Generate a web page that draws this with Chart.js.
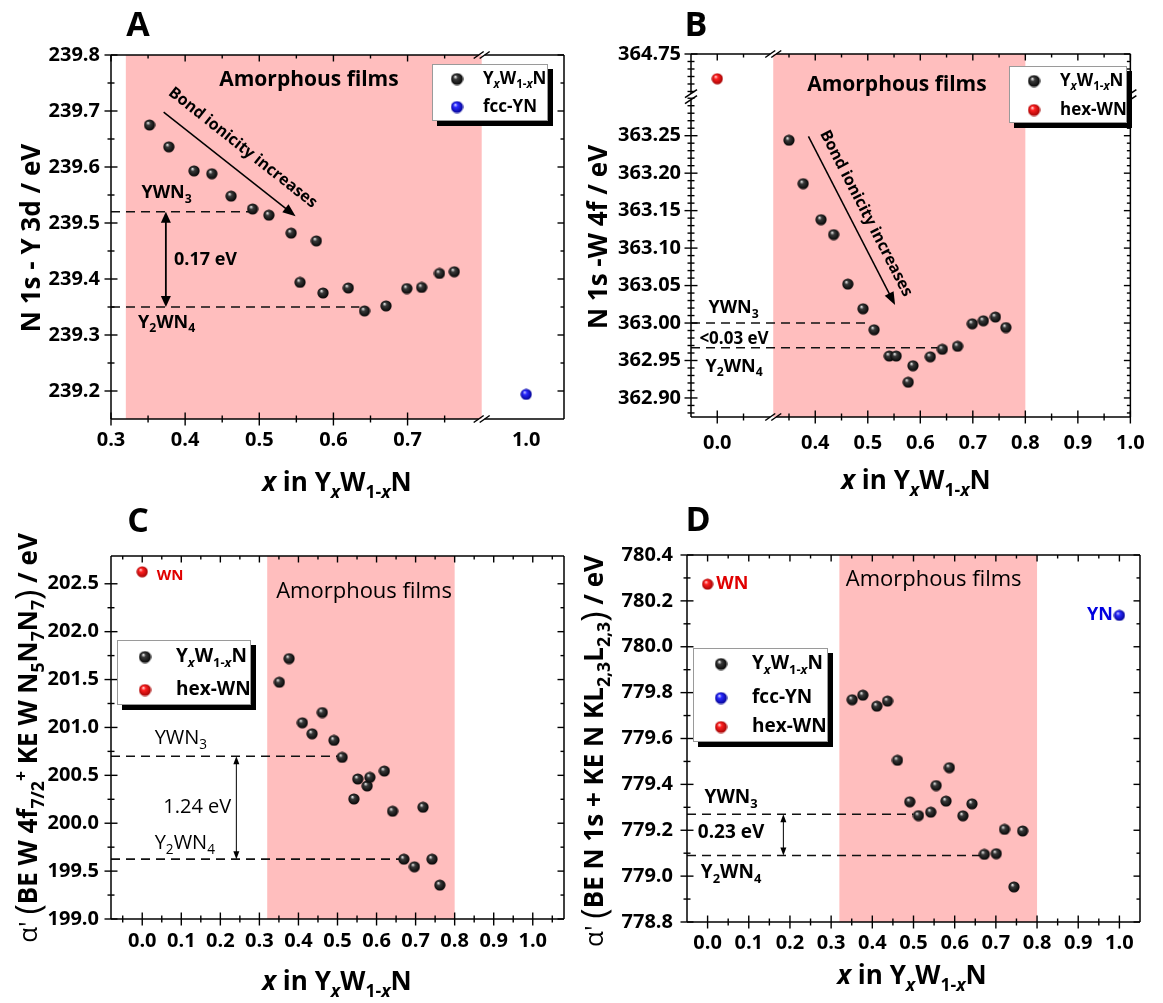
<!DOCTYPE html>
<html>
<head>
<meta charset="utf-8">
<script src="https://cdn.jsdelivr.net/npm/chart.js@4.4.0/dist/chart.umd.min.js"></script>
<style>
  body { margin: 0; background: #fff; width: 1163px; height: 1003px; position: relative; overflow: hidden; }
  canvas { position: absolute; }
</style>
</head>
<body>
<canvas id="pa" width="580" height="500" style="left:0;top:0"></canvas>
<canvas id="pb" width="583" height="500" style="left:580px;top:0"></canvas>
<canvas id="pc" width="580" height="503" style="left:0;top:500px"></canvas>
<canvas id="pd" width="583" height="503" style="left:580px;top:500px"></canvas>
<script>
// ---- data ----
// A: N 1s - Y 3d
const aX = [0.352, 0.378, 0.412, 0.436, 0.462, 0.491, 0.513, 0.543, 0.577, 0.555, 0.586, 0.620, 0.642, 0.671, 0.699, 0.719, 0.743, 0.763];
const aY = [239.675, 239.636, 239.593, 239.588, 239.548, 239.525, 239.514, 239.482, 239.468, 239.394, 239.375, 239.384, 239.343, 239.352, 239.383, 239.385, 239.410, 239.413];
const aYnX = [1.0];
const aYnY = [239.194];
const aTickX = [0.3, 0.4, 0.5, 0.6, 0.7];
const aTickX2 = [1.0];
const aTickY = [239.2, 239.3, 239.4, 239.5, 239.6, 239.7, 239.8];
const aLevels = [239.52, 239.35];

// B: N 1s - W 4f
const bX = [0.350, 0.377, 0.411, 0.435, 0.462, 0.491, 0.512, 0.541, 0.554, 0.586, 0.577, 0.619, 0.642, 0.671, 0.699, 0.720, 0.743, 0.763];
const bY = [363.244, 363.186, 363.138, 363.118, 363.052, 363.019, 362.991, 362.956, 362.956, 362.943, 362.921, 362.955, 362.965, 362.969, 362.999, 363.003, 363.008, 362.994];
const bWnX = [0.0];
const bWnY = [364.717];
const bTickX = [0.0];
const bTickX2 = [0.4, 0.5, 0.6, 0.7, 0.8, 0.9, 1.0];
const bTickY = [364.75];
const bTickY2 = [362.90, 362.95, 363.00, 363.05, 363.10, 363.15, 363.20, 363.25];
const bLevels = [363.00, 362.967];

// C: alpha' W
const cX = [0.351, 0.376, 0.410, 0.435, 0.461, 0.491, 0.512, 0.542, 0.552, 0.576, 0.583, 0.620, 0.641, 0.719, 0.670, 0.697, 0.742, 0.762];
const cY = [201.472, 201.719, 201.049, 200.934, 201.156, 200.865, 200.688, 200.253, 200.462, 200.389, 200.479, 200.545, 200.125, 200.167, 199.625, 199.545, 199.625, 199.354];
const cWnX = [0.0];
const cWnY = [202.625];
const cTickX = [0.0, 0.1, 0.2, 0.3, 0.4, 0.5, 0.6, 0.7, 0.8, 0.9, 1.0];
const cTickY = [199.0, 199.5, 200.0, 200.5, 201.0, 201.5, 202.0, 202.5];
const cLevels = [200.70, 199.625];

// D: alpha' N
const dX = [0.351, 0.377, 0.411, 0.437, 0.461, 0.491, 0.512, 0.542, 0.555, 0.579, 0.587, 0.620, 0.642, 0.672, 0.701, 0.721, 0.744, 0.765];
const dY = [779.769, 779.789, 779.741, 779.763, 779.505, 779.324, 779.264, 779.279, 779.395, 779.327, 779.473, 779.263, 779.315, 779.095, 779.098, 779.204, 778.953, 779.197];
const dWnX = [0.0];
const dWnY = [780.273];
const dYnX = [1.0];
const dYnY = [780.137];
const dTickX = [0.0, 0.1, 0.2, 0.3, 0.4, 0.5, 0.6, 0.7, 0.8, 0.9, 1.0];
const dTickY = [778.8, 779.0, 779.2, 779.4, 779.6, 779.8, 780.0, 780.2, 780.4];
const dLevels = [779.27, 779.09];

const amorphous = [0.32, 0.80];

// ---- drawing helpers ----
const FONT = '"Open Sans", "DejaVu Sans", sans-serif';
const PINK = '#ffbebe';

function sphere(hi, mid, lo) {
  const cv = document.createElement('canvas');
  cv.width = cv.height = 12;
  const g = cv.getContext('2d');
  const gr = g.createRadialGradient(4.3, 3.8, 0.3, 6, 6, 6);
  gr.addColorStop(0, hi);
  gr.addColorStop(0.3, mid);
  gr.addColorStop(1, lo);
  g.fillStyle = gr;
  g.beginPath();
  g.arc(6, 6, 5.6, 0, Math.PI * 2);
  g.fill();
  return cv;
}
const ballK = sphere('#e8e8e8', '#3a3a3a', '#000');
const ballB = sphere('#c8c8ff', '#2a2aff', '#00008a');
const ballR = sphere('#ffd0d0', '#ff2020', '#9a0000');

function rich(ctx, parts, x, y, o) {
  const size = o.size, w = o.weight || 'bold';
  const segs = parts.map(p => typeof p === 'string' ? {t: p} : p);
  const fontOf = p => {
    const s = (p.sub || p.sup) ? size * 0.68 : size * (p.scale || 1);
    return (p.it ? 'italic ' : '') + (p.w || w) + ' ' + s + 'px ' + FONT;
  };
  ctx.save();
  let total = 0;
  segs.forEach(p => { ctx.font = fontOf(p); p.wd = ctx.measureText(p.t).width; total += p.wd; });
  ctx.translate(x, y);
  if (o.rot) ctx.rotate(o.rot);
  let cx = o.align === 'center' ? -total / 2 : o.align === 'right' ? -total : 0;
  ctx.fillStyle = o.color || '#000';
  ctx.textBaseline = 'middle';
  ctx.textAlign = 'left';
  segs.forEach(p => {
    ctx.font = fontOf(p);
    const dy = p.sub ? size * 0.33 : p.sup ? -size * 0.3 : 0;
    ctx.fillText(p.t, cx, dy);
    cx += p.wd;
  });
  ctx.restore();
}

const lblYWN = ['YWN', {t: '3', sub: 1}];
const lblY2WN = ['Y', {t: '2', sub: 1}, 'WN', {t: '4', sub: 1}];
const lblAlloy = ['Y', {t: 'x', sub: 1, it: 1}, 'W', {t: '1-', sub: 1}, {t: 'x', sub: 1, it: 1}, 'N'];
const lblXTitle = [{t: 'x', it: 1}, ' in Y', {t: 'x', sub: 1, it: 1}, 'W', {t: '1-', sub: 1}, {t: 'x', sub: 1, it: 1}, 'N'];

function dashH(ctx, x0, x1, y) {
  ctx.save();
  ctx.strokeStyle = '#111';
  ctx.lineWidth = 1.6;
  ctx.setLineDash([9, 6]);
  ctx.beginPath();
  ctx.moveTo(x0, y);
  ctx.lineTo(x1, y);
  ctx.stroke();
  ctx.restore();
}

function head(ctx, x, y, ang, len, hw) {
  const c = Math.cos(ang), s = Math.sin(ang);
  ctx.beginPath();
  ctx.moveTo(x, y);
  ctx.lineTo(x - len * c + hw * s, y - len * s - hw * c);
  ctx.lineTo(x - len * c - hw * s, y - len * s + hw * c);
  ctx.closePath();
  ctx.fill();
}

function arrow(ctx, x0, y0, x1, y1, o) {
  const ang = Math.atan2(y1 - y0, x1 - x0);
  const c = Math.cos(ang), s = Math.sin(ang);
  ctx.save();
  ctx.lineWidth = o.w;
  ctx.strokeStyle = ctx.fillStyle = '#000';
  ctx.beginPath();
  const k = o.len * 0.7;
  ctx.moveTo(x0 + (o.both ? k * c : 0), y0 + (o.both ? k * s : 0));
  ctx.lineTo(x1 - k * c, y1 - k * s);
  ctx.stroke();
  head(ctx, x1, y1, ang, o.len, o.hw);
  if (o.both) head(ctx, x0, y0, ang + Math.PI, o.len, o.hw);
  ctx.restore();
}

function tilted(ctx, text, x0, y0, x1, y1, off, size) {
  const ang = Math.atan2(y1 - y0, x1 - x0);
  const mx = (x0 + x1) / 2 + Math.sin(ang) * off;
  const my = (y0 + y1) / 2 - Math.cos(ang) * off;
  rich(ctx, [text], mx, my, {size: size, align: 'center', rot: ang});
}

function legend(ctx, box, entries, size) {
  const [x0, y0, x1, y1] = box;
  ctx.save();
  ctx.fillStyle = '#000';
  ctx.fillRect(x0 + 5, y0 + 5, x1 - x0, y1 - y0);
  ctx.fillStyle = '#fff';
  ctx.fillRect(x0, y0, x1 - x0, y1 - y0);
  ctx.strokeStyle = '#9a9a9a';
  ctx.lineWidth = 1;
  ctx.strokeRect(x0 + 0.5, y0 + 0.5, x1 - x0 - 1, y1 - y0 - 1);
  entries.forEach(e => {
    ctx.drawImage(e.img, e.sx - 6.5, e.y - 6.5, 13, 13);
    rich(ctx, e.label, e.tx, e.y, {size: size});
  });
  ctx.restore();
}

function frame(ctx, a, xb, yb) {
  const g = 3;
  ctx.save();
  ctx.strokeStyle = '#000';
  ctx.lineWidth = 1.5;
  const seg = (x0, y0, x1, y1) => { ctx.beginPath(); ctx.moveTo(x0, y0); ctx.lineTo(x1, y1); ctx.stroke(); };
  [a.top, a.bottom].forEach(y => {
    if (xb != null) {
      seg(a.left, y, xb - g, y);
      seg(xb + g, y, a.right, y);
      seg(xb - g - 5, y + 3.5, xb - g + 5, y - 3.5);
      seg(xb + g - 5, y + 3.5, xb + g + 5, y - 3.5);
    } else seg(a.left, y, a.right, y);
  });
  [a.left, a.right].forEach(x => {
    if (yb != null) {
      seg(x, a.top, x, yb - g);
      seg(x, yb + g, x, a.bottom);
      seg(x - 6, yb - g + 4, x + 6, yb - g - 4);
      seg(x - 6, yb + g + 4, x + 6, yb + g - 4);
    } else seg(x, a.top, x, a.bottom);
  });
  ctx.restore();
}

function tickMarks(ctx, chart, specs) {
  const a = chart.chartArea;
  ctx.save();
  ctx.strokeStyle = '#000';
  ctx.lineWidth = 1.4;
  const seg = (x0, y0, x1, y1) => { ctx.beginPath(); ctx.moveTo(x0, y0); ctx.lineTo(x1, y1); ctx.stroke(); };
  specs.forEach(sp => {
    const s = chart.scales[sp.id];
    const majors = s.ticks.map(t => t.value);
    const vals = majors.map(v => [v, 1]);
    const k0 = Math.ceil(s.min / sp.minor - 1e-6), k1 = Math.floor(s.max / sp.minor + 1e-6);
    for (let k = k0; k <= k1; k++) {
      const v = k * sp.minor;
      if (v - s.min < sp.minor * 0.2 || s.max - v < sp.minor * 0.2) continue;
      if (majors.some(m => Math.abs(m - v) < sp.minor / 10)) continue;
      vals.push([v, 0]);
    }
    vals.forEach(([v, big]) => {
      const p = s.getPixelForValue(v);
      const l = big ? 6.5 : 3.5;
      if (s.isHorizontal()) {
        seg(p, a.bottom + l, p, a.bottom - l);
        seg(p, a.top, p, a.top + l);
      } else {
        seg(a.left - l, p, a.left + l, p);
        seg(a.right, p, a.right - l, p);
      }
    });
  });
  ctx.restore();
}

function axis(o) {
  return {
    type: 'linear',
    position: o.pos,
    min: o.min,
    max: o.max,
    stack: o.stack,
    stackWeight: o.weight,
    grid: {display: false, drawTicks: false},
    border: {display: false},
    afterBuildTicks: s => { s.ticks = o.ticks.map(v => ({value: v})); },
    afterFit: s => { if (o.pos === 'left') s.width = o.size; else s.height = o.size; },
    ticks: {
      autoSkip: false, maxRotation: 0, padding: o.pad, color: '#000',
      font: {family: FONT, size: 20, weight: 'bold'},
      callback: v => Number(v).toFixed(o.dec)
    }
  };
}

function pts(xs, ys) {
  return xs.map((x, i) => ({x: x, y: ys[i]}));
}

function set(data, img, xid, yid) {
  return {data: data, pointStyle: img, pointRadius: 6, showLine: false, xAxisID: xid, yAxisID: yid};
}

function panel(id, cfg) {
  new Chart(document.getElementById(id), {
    type: 'scatter',
    data: {datasets: cfg.datasets},
    options: {
      responsive: false,
      animation: false,
      devicePixelRatio: 1,
      layout: {padding: cfg.pad},
      plugins: {legend: {display: false}, tooltip: {enabled: false}},
      scales: cfg.scales
    },
    plugins: [{
      id: 'deco',
      beforeDatasetsDraw: c => cfg.under(c.ctx, c),
      afterDatasetsDraw: c => {
        frame(c.ctx, c.chartArea, cfg.xBreak ? cfg.xBreak(c) : null, cfg.yBreak ? cfg.yBreak(c) : null);
        tickMarks(c.ctx, c, cfg.minor);
        cfg.over(c.ctx, c);
      }
    }]
  });
}

// ---- panel A ----
panel('pa', {
  pad: {left: 0, right: 16, top: 55, bottom: 0},
  datasets: [set(pts(aX, aY), ballK, 'xa', 'y'), set(pts(aYnX, aYnY), ballB, 'xb', 'y')],
  scales: {
    xa: axis({pos: 'bottom', min: 0.3, max: 0.8, ticks: aTickX, dec: 1, size: 81, pad: 9, stack: 'x', weight: 0.5}),
    xb: axis({pos: 'bottom', min: 0.94, max: 1.051, ticks: aTickX2, dec: 1, size: 81, pad: 9, stack: 'x', weight: 0.111}),
    y: axis({pos: 'left', min: 239.15, max: 239.8, ticks: aTickY, dec: 1, size: 111, pad: 11})
  },
  minor: [{id: 'xa', minor: 0.05}, {id: 'y', minor: 0.05}],
  xBreak: c => c.scales.xa.right,
  under: (ctx, c) => {
    const a = c.chartArea;
    const x = v => c.scales.xa.getPixelForValue(v), y = v => c.scales.y.getPixelForValue(v);
    ctx.fillStyle = PINK;
    ctx.fillRect(x(amorphous[0]), a.top, x(amorphous[1]) - x(amorphous[0]), a.bottom - a.top);
    dashH(ctx, a.left, x(0.49), y(aLevels[0]));
    dashH(ctx, a.left, x(0.635), y(aLevels[1]));
    arrow(ctx, x(0.374), y(aLevels[0]), x(0.374), y(aLevels[1]), {w: 1.8, len: 11, hw: 5, both: true});
    rich(ctx, ['0.17 eV'], x(0.385), y(239.435), {size: 18, align: 'left'});
    rich(ctx, lblYWN, x(0.375), y(239.553), {size: 18, align: 'center'});
    rich(ctx, lblY2WN, x(0.375), y(239.322), {size: 18, align: 'center'});
    const x0 = x(0.371), y0 = y(239.698), x1 = x(0.549), y1 = y(239.512);
    arrow(ctx, x0, y0, x1, y1, {w: 1.5, len: 13, hw: 5});
    tilted(ctx, 'Bond ionicity increases', x0, y0, x1, y1, 21, 16);
    rich(ctx, ['Amorphous films'], x(0.567), y(239.755), {size: 21, align: 'center'});
  },
  over: (ctx, c) => {
    legend(ctx, [432, 64, 548, 121], [
      {img: ballK, sx: 457, tx: 483, y: 79, label: lblAlloy},
      {img: ballB, sx: 457, tx: 483, y: 107, label: ['fcc-YN']}
    ], 17);
    rich(ctx, ['A'], 138, 26, {size: 34, align: 'center'});
    rich(ctx, ['N 1s - Y 3d / eV'], 33, 238, {size: 26, align: 'center', rot: -Math.PI / 2});
    rich(ctx, lblXTitle, 337, 484, {size: 26, align: 'center'});
  }
});

// ---- panel B ----
panel('pb', {
  pad: {left: 0, right: 22, top: 54, bottom: 0},
  datasets: [set(pts(bX, bY), ballK, 'xb', 'yl'), set(pts(bWnX, bWnY), ballR, 'xa', 'yu')],
  scales: {
    xa: axis({pos: 'bottom', min: -0.05, max: 0.1066, ticks: bTickX, dec: 1, size: 83, pad: 14, stack: 'x', weight: 84.4}),
    xb: axis({pos: 'bottom', min: 0.32, max: 1.0, ticks: bTickX2, dec: 1, size: 83, pad: 14, stack: 'x', weight: 366.5}),
    yl: axis({pos: 'left', min: 362.8746, max: 363.302, ticks: bTickY2, dec: 2, size: 111, pad: 10, stack: 'y', weight: 320}),
    yu: axis({pos: 'left', min: 364.693, max: 364.75, ticks: bTickY, dec: 2, size: 111, pad: 10, stack: 'y', weight: 42.7})
  },
  minor: [{id: 'xa', minor: 0.05}, {id: 'xb', minor: 0.05}, {id: 'yl', minor: 0.01}, {id: 'yu', minor: 0.01}],
  xBreak: c => c.scales.xa.right,
  yBreak: c => c.scales.yu.bottom,
  under: (ctx, c) => {
    const a = c.chartArea;
    const xa = v => c.scales.xa.getPixelForValue(v), x = v => c.scales.xb.getPixelForValue(v);
    const y = v => c.scales.yl.getPixelForValue(v), yu = v => c.scales.yu.getPixelForValue(v);
    ctx.fillStyle = PINK;
    ctx.fillRect(x(amorphous[0]), a.top, x(amorphous[1]) - x(amorphous[0]), a.bottom - a.top);
    dashH(ctx, a.left, x(0.505), y(bLevels[0]));
    dashH(ctx, a.left, x(0.633), y(bLevels[1]));
    rich(ctx, ['<0.03 eV'], xa(-0.034), y(362.979), {size: 17, align: 'left'});
    rich(ctx, lblYWN, xa(0.031), y(363.0196), {size: 18, align: 'center'});
    rich(ctx, lblY2WN, xa(0.032), y(362.942), {size: 18, align: 'center'});
    const x0 = x(0.387), y0 = y(363.249), x1 = x(0.552), y1 = y(363.024);
    arrow(ctx, x0, y0, x1, y1, {w: 1.5, len: 13, hw: 5});
    tilted(ctx, 'Bond ionicity increases', x0, y0, x1, y1, 16, 16);
    rich(ctx, ['Amorphous films'], x(0.5555), yu(364.7086), {size: 21, align: 'center'});
  },
  over: (ctx, c) => {
    legend(ctx, [429, 66, 547, 123], [
      {img: ballK, sx: 454, tx: 480, y: 81, label: lblAlloy},
      {img: ballR, sx: 454, tx: 480, y: 110, label: ['hex-WN']}
    ], 17);
    rich(ctx, ['B'], 116, 26, {size: 34, align: 'center'});
    rich(ctx, ['N 1s -W 4f / eV'], 20, 237, {size: 26, align: 'center', rot: -Math.PI / 2});
    rich(ctx, lblXTitle, 336, 482, {size: 26, align: 'center'});
  }
});

// ---- panel C ----
panel('pc', {
  pad: {left: 0, right: 16, top: 56, bottom: 0},
  datasets: [set(pts(cX, cY), ballK, 'x', 'y'), set(pts(cWnX, cWnY), ballR, 'x', 'y')],
  scales: {
    x: axis({pos: 'bottom', min: -0.08, max: 1.08, ticks: cTickX, dec: 1, size: 84, pad: 10}),
    y: axis({pos: 'left', min: 199.0, max: 202.79, ticks: cTickY, dec: 1, size: 111, pad: 12})
  },
  minor: [{id: 'x', minor: 0.05}, {id: 'y', minor: 0.25}],
  under: (ctx, c) => {
    const a = c.chartArea;
    const x = v => c.scales.x.getPixelForValue(v), y = v => c.scales.y.getPixelForValue(v);
    ctx.fillStyle = PINK;
    ctx.fillRect(x(amorphous[0]), a.top, x(amorphous[1]) - x(amorphous[0]), a.bottom - a.top);
    dashH(ctx, a.left, x(0.50), y(cLevels[0]));
    dashH(ctx, a.left, x(0.665), y(cLevels[1]));
    arrow(ctx, x(0.241), y(cLevels[0]), x(0.241), y(cLevels[1]), {w: 1, len: 8, hw: 3, both: true});
    rich(ctx, ['1.24 eV'], x(0.141), y(200.17), {size: 20, align: 'center', weight: 'normal'});
    rich(ctx, lblYWN, x(0.099), y(200.885), {size: 20, align: 'center', weight: 'normal'});
    rich(ctx, lblY2WN, x(0.109), y(199.79), {size: 20, align: 'center', weight: 'normal'});
    rich(ctx, ['Amorphous films'], x(0.568), y(202.42), {size: 22, align: 'center', weight: 'normal'});
    rich(ctx, ['WN'], x(0.037), y(202.58), {size: 15, color: '#e00000'});
  },
  over: (ctx, c) => {
    legend(ctx, [117, 140, 251, 205], [
      {img: ballK, sx: 145, tx: 176, y: 157, label: lblAlloy},
      {img: ballR, sx: 145, tx: 176, y: 190, label: ['hex-WN']}
    ], 19);
    rich(ctx, ['C'], 138, 22, {size: 34, align: 'center'});
    rich(ctx, [{t: "\u03b1' ", w: 'normal'}, {t: '(', w: 'normal', scale: 1.35}, 'BE W 4f', {t: '7/2', sub: 1}, {t: '+', sup: 1},
      ' KE W N', {t: '5', sub: 1}, 'N', {t: '7', sub: 1}, 'N', {t: '7', sub: 1}, {t: ')', w: 'normal', scale: 1.35}, ' / eV'],
      30, 238, {size: 26, align: 'center', rot: -Math.PI / 2});
    rich(ctx, lblXTitle, 337, 483, {size: 26, align: 'center'});
  }
});

// ---- panel D ----
panel('pd', {
  pad: {left: 0, right: 23, top: 55, bottom: 0},
  datasets: [set(pts(dX, dY), ballK, 'x', 'y'), set(pts(dYnX, dYnY), ballB, 'x', 'y'), set(pts(dWnX, dWnY), ballR, 'x', 'y')],
  scales: {
    x: axis({pos: 'bottom', min: -0.05, max: 1.05, ticks: dTickX, dec: 1, size: 81, pad: 9}),
    y: axis({pos: 'left', min: 778.8, max: 780.4, ticks: dTickY, dec: 1, size: 107, pad: 14})
  },
  minor: [{id: 'x', minor: 0.05}, {id: 'y', minor: 0.1}],
  under: (ctx, c) => {
    const a = c.chartArea;
    const x = v => c.scales.x.getPixelForValue(v), y = v => c.scales.y.getPixelForValue(v);
    ctx.fillStyle = PINK;
    ctx.fillRect(x(amorphous[0]), a.top, x(amorphous[1]) - x(amorphous[0]), a.bottom - a.top);
    dashH(ctx, a.left, x(0.50), y(dLevels[0]));
    dashH(ctx, a.left, x(0.665), y(dLevels[1]));
    arrow(ctx, x(0.184), y(dLevels[0]), x(0.184), y(dLevels[1]), {w: 1, len: 8, hw: 3, both: true});
    rich(ctx, ['0.23 eV'], x(0.057), y(779.19), {size: 19, align: 'center'});
    rich(ctx, lblYWN, x(0.057), y(779.341), {size: 19, align: 'center'});
    rich(ctx, lblY2WN, x(0.057), y(779.014), {size: 19, align: 'center'});
    rich(ctx, ['Amorphous films'], x(0.549), y(780.291), {size: 22, align: 'center', weight: 'normal'});
    rich(ctx, ['WN'], x(0.021), y(780.276), {size: 18, color: '#e00000'});
    rich(ctx, ['YN'], x(0.984), y(780.137), {size: 18, align: 'right', color: '#0000e0'});
  },
  over: (ctx, c) => {
    legend(ctx, [113, 148, 248, 242], [
      {img: ballK, sx: 141, tx: 172, y: 164, label: lblAlloy},
      {img: ballB, sx: 141, tx: 172, y: 198, label: ['fcc-YN']},
      {img: ballR, sx: 141, tx: 172, y: 227, label: ['hex-WN']}
    ], 19);
    rich(ctx, ['D'], 118, 21, {size: 34, align: 'center'});
    rich(ctx, [{t: "\u03b1' ", w: 'normal'}, {t: '(', w: 'normal', scale: 1.35}, 'BE N 1s + KE N KL', {t: '2,3', sub: 1}, 'L', {t: '2,3', sub: 1},
      {t: ')', w: 'normal', scale: 1.35}, ' / eV'],
      16, 251, {size: 26, align: 'center', rot: -Math.PI / 2});
    rich(ctx, lblXTitle, 332, 477, {size: 26, align: 'center'});
  }
});
</script>
</body>
</html>
